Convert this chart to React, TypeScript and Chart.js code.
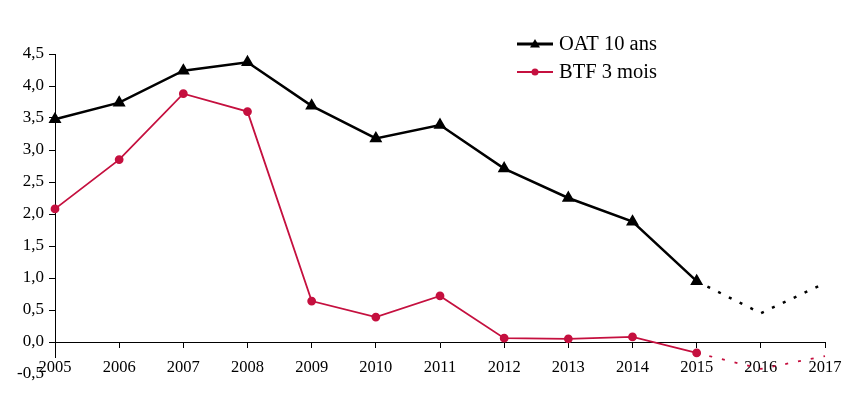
import React, { useEffect, useRef } from "react";
import { Chart, registerables } from "chart.js";

Chart.register(...registerables);

const years = ["2005", "2006", "2007", "2008", "2009", "2010", "2011", "2012", "2013", "2014", "2015", "2016", "2017"];
const oat10 = [3.48, 3.74, 4.24, 4.37, 3.69, 3.18, 3.39, 2.71, 2.25, 1.88, 0.95, 0.45, 0.92];
const btf3 = [2.08, 2.85, 3.88, 3.6, 0.64, 0.39, 0.72, 0.06, 0.05, 0.08, -0.17, -0.42, -0.22];
const seriesNames = ["OAT 10 ans", "BTF 3 mois"];
const seriesColors = ["#000000", "#c5103f"];
const lastObservedIndex = 10;
const yMin = -0.5;
const yMax = 4.5;
const yStep = 0.5;
const yAxisLineEnd = -0.25;

const FONT = "'Liberation Serif', 'Times New Roman', serif";

const yAxisLinePlugin = {
  id: "yAxisLine",
  beforeDatasetsDraw(chart: any) {
    const ctx = chart.ctx;
    const ys = chart.scales.y;
    const x = Math.round(chart.chartArea.left) + 0.5;
    ctx.save();
    ctx.strokeStyle = "#000";
    ctx.lineWidth = 1;
    ctx.beginPath();
    ctx.moveTo(x, ys.getPixelForValue(yMax));
    ctx.lineTo(x, ys.getPixelForValue(yAxisLineEnd));
    ctx.stroke();
    ctx.restore();
  },
};

const legendPlugin = {
  id: "customLegend",
  afterDraw(chart: any) {
    const ctx = chart.ctx;
    const x0 = 517;
    const x1 = 553;
    const rows = [44, 72];
    ctx.save();
    seriesNames.forEach((name, i) => {
      const y = rows[i];
      ctx.strokeStyle = seriesColors[i];
      ctx.fillStyle = seriesColors[i];
      ctx.lineWidth = i === 0 ? 3 : 2;
      ctx.beginPath();
      ctx.moveTo(x0, y);
      ctx.lineTo(x1, y);
      ctx.stroke();
      const cx = (x0 + x1) / 2;
      ctx.beginPath();
      if (i === 0) {
        ctx.moveTo(cx, y - 5);
        ctx.lineTo(cx + 5, y + 3.5);
        ctx.lineTo(cx - 5, y + 3.5);
        ctx.closePath();
      } else {
        ctx.arc(cx, y, 3.5, 0, Math.PI * 2);
      }
      ctx.fill();
      ctx.fillStyle = "#000";
      ctx.font = "20.5px " + FONT;
      ctx.textBaseline = "middle";
      ctx.textAlign = "left";
      ctx.fillText(name, 559, y + 1);
    });
    ctx.restore();
  },
};

const dashAfter = (dash: number[]) => (c: any) => (c.p0DataIndex >= lastObservedIndex ? dash : undefined);

export default function App() {
  const ref = useRef<HTMLCanvasElement | null>(null);
  useEffect(() => {
    if (!ref.current) return;
    const chart = new Chart(ref.current, {
      type: "line",
      data: {
        labels: years,
        datasets: [
          {
            label: seriesNames[0],
            data: oat10,
            borderColor: seriesColors[0],
            backgroundColor: seriesColors[0],
            borderWidth: 2.5,
            pointStyle: "triangle",
            pointRadius: oat10.map((_, i) => (i > lastObservedIndex ? 0 : 5)),
            pointHoverRadius: 0,
            tension: 0,
            segment: { borderDash: dashAfter([3, 9]) },
          },
          {
            label: seriesNames[1],
            data: btf3,
            borderColor: seriesColors[1],
            backgroundColor: seriesColors[1],
            borderWidth: 1.8,
            pointStyle: "circle",
            pointRadius: btf3.map((_, i) => (i > lastObservedIndex ? 0 : 3.5)),
            pointHoverRadius: 0,
            tension: 0,
            segment: { borderDash: dashAfter([3, 10]) },
          },
        ],
      },
      options: {
        animation: false,
        responsive: false,
        maintainAspectRatio: false,
        devicePixelRatio: 1,
        layout: { padding: { top: 54, right: 28, bottom: 23, left: 0 } },
        plugins: {
          legend: { display: false },
          tooltip: { enabled: false },
        },
        scales: {
          x: {
            type: "category",
            position: { y: 0 } as any,
            offset: false,
            grid: {
              drawOnChartArea: false,
              drawTicks: true,
              tickLength: 5,
              color: "#000",
            },
            border: { display: true, color: "#000", width: 1 },
            ticks: {
              color: "#000",
              font: { family: FONT, size: 16.5 },
              padding: 11,
              maxRotation: 0,
              autoSkip: false,
            },
            afterFit: (s: any) => {
              s.height = 0;
            },
          },
          y: {
            type: "linear",
            min: yMin,
            max: yMax,
            grid: {
              drawOnChartArea: false,
              drawTicks: true,
              tickLength: 6,
              color: (c: any) => (c.tick && c.tick.value === yMin ? "rgba(0,0,0,0)" : "#000"),
            },
            border: { display: false },
            ticks: {
              stepSize: yStep,
              color: "#000",
              font: { family: FONT, size: 17 },
              padding: 5,
              callback: (v: any) => Number(v).toFixed(1).replace(".", ","),
            },
            afterFit: (s: any) => {
              s.width = 55;
            },
          },
        },
      },
      plugins: [yAxisLinePlugin, legendPlugin],
    });
    return () => chart.destroy();
  }, []);
  return (
    <div style={{ position: "fixed", left: 0, top: 0, width: 853, height: 397, background: "#fff" }}>
      <canvas ref={ref} width={853} height={397} style={{ width: 853, height: 397 }} />
    </div>
  );
}
